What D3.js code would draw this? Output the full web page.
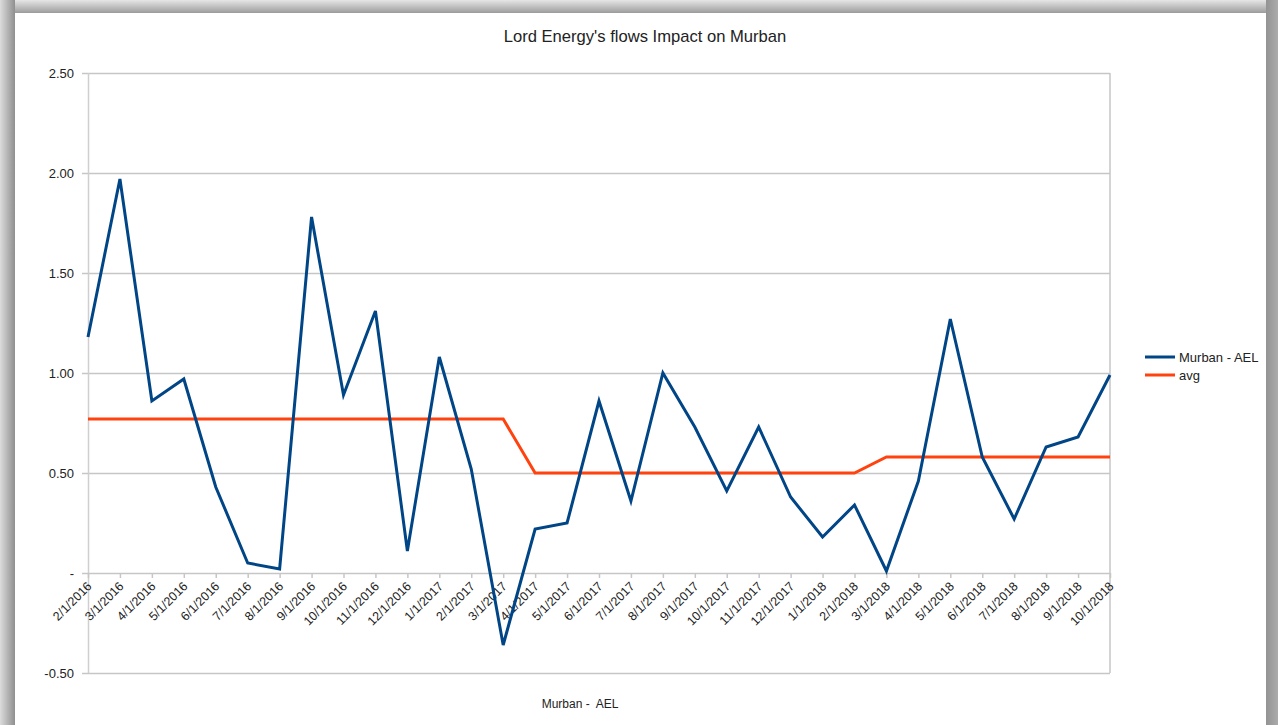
<!DOCTYPE html>
<html>
<head>
<meta charset="utf-8">
<script src="https://cdn.jsdelivr.net/npm/d3@7"></script>
<style>
  html, body { margin: 0; padding: 0; background: #fff; }
  svg { display: block; font-family: "Liberation Sans", Arial, sans-serif; }
</style>
</head>
<body>
<svg id="chart" width="1278" height="725"></svg>
<script>
// months shown on the category axis
var months = ["2/1/2016","3/1/2016","4/1/2016","5/1/2016","6/1/2016","7/1/2016","8/1/2016",
  "9/1/2016","10/1/2016","11/1/2016","12/1/2016","1/1/2017","2/1/2017","3/1/2017","4/1/2017",
  "5/1/2017","6/1/2017","7/1/2017","8/1/2017","9/1/2017","10/1/2017","11/1/2017","12/1/2017",
  "1/1/2018","2/1/2018","3/1/2018","4/1/2018","5/1/2018","6/1/2018","7/1/2018","8/1/2018",
  "9/1/2018","10/1/2018"];

var murban = [1.18, 1.97, 0.86, 0.97, 0.43, 0.05, 0.02, 1.78, 0.89, 1.31, 0.11, 1.08, 0.52,
  -0.36, 0.22, 0.25, 0.86, 0.36, 1.00, 0.73, 0.41, 0.73, 0.38, 0.18, 0.34, 0.01, 0.46, 1.27,
  0.58, 0.27, 0.63, 0.68, 0.99];

var avg = [0.77, 0.77, 0.77, 0.77, 0.77, 0.77, 0.77, 0.77, 0.77, 0.77, 0.77, 0.77, 0.77, 0.77,
  0.50, 0.50, 0.50, 0.50, 0.50, 0.50, 0.50, 0.50, 0.50, 0.50, 0.50,
  0.58, 0.58, 0.58, 0.58, 0.58, 0.58, 0.58, 0.58];

var yTicks = [-0.5, 0, 0.5, 1, 1.5, 2, 2.5];
var yTickLabels = ["-0.50", "-", "0.50", "1.00", "1.50", "2.00", "2.50"];

var seriesNames = ["Murban - AEL", "avg"];
var seriesColors = ["#004586", "#ff420e"];

var svg = d3.select('#chart');
var W = 1278, H = 725;

// gray frame round the sheet
var defs = svg.append('defs');
var gl = defs.append('linearGradient').attr('id', 'gLeft').attr('x1', 0).attr('x2', 1).attr('y1', 0).attr('y2', 0);
gl.append('stop').attr('offset', '0%').attr('stop-color', '#dcdcdc');
gl.append('stop').attr('offset', '100%').attr('stop-color', '#8f8f8f');
var gt = defs.append('linearGradient').attr('id', 'gTop').attr('x1', 0).attr('x2', 0).attr('y1', 0).attr('y2', 1);
gt.append('stop').attr('offset', '0%').attr('stop-color', '#e6e6e6');
gt.append('stop').attr('offset', '100%').attr('stop-color', '#9c9c9c');
var gr = defs.append('linearGradient').attr('id', 'gRight').attr('x1', 0).attr('x2', 1).attr('y1', 0).attr('y2', 0);
gr.append('stop').attr('offset', '0%').attr('stop-color', '#939393');
gr.append('stop').attr('offset', '100%').attr('stop-color', '#ababab');

svg.append('rect').attr('x', 0).attr('y', 0).attr('width', W).attr('height', 13).attr('fill', 'url(#gTop)');
svg.append('rect').attr('x', 0).attr('y', 0).attr('width', 15).attr('height', H).attr('fill', 'url(#gLeft)');
svg.append('rect').attr('x', 1266).attr('y', 0).attr('width', 12).attr('height', H).attr('fill', 'url(#gRight)');
svg.append('rect').attr('x', 15).attr('y', 13).attr('width', 1251).attr('height', H - 13).attr('fill', '#fff');

var x = d3.scalePoint().domain(months).range([88, 1110]);
var y = d3.scaleLinear().domain([-0.5, 2.5]).range([673, 73]);

// horizontal grid + y labels
var yAxis = d3.axisLeft(y)
  .tickValues(yTicks)
  .tickSize(-(1110 - 82))
  .tickPadding(8)
  .tickFormat(function (d, i) { return yTickLabels[i]; });

svg.append('g')
  .attr('transform', 'translate(82,0)')
  .call(yAxis)
  .call(function (g) {
    g.select('.domain').remove();
    g.selectAll('.tick line').attr('stroke', '#c6c6c6').attr('stroke-width', 1.5);
    g.selectAll('.tick text').attr('fill', '#222').style('font-size', '13px')
      .attr('x', -8);
  });

// plot frame: left axis, right edge
svg.append('line').attr('x1', 88.5).attr('x2', 88.5).attr('y1', 73).attr('y2', 673)
  .attr('stroke', '#cfcfcf').attr('stroke-width', 1.5);
svg.append('line').attr('x1', 1110).attr('x2', 1110).attr('y1', 73).attr('y2', 673)
  .attr('stroke', '#c6c6c6').attr('stroke-width', 1.5);

// category axis on the zero line
var xAxis = d3.axisBottom(x).tickSize(5).tickPadding(3);
svg.append('g')
  .attr('transform', 'translate(0,' + y(0) + ')')
  .call(xAxis)
  .call(function (g) {
    g.select('.domain').remove();
    g.selectAll('.tick line').attr('stroke', '#c6c6c6').attr('stroke-width', 1.5);
    g.selectAll('.tick text')
      .attr('fill', '#222')
      .style('font-size', '12.5px')
      .attr('text-anchor', 'end')
      .attr('dy', null)
      .attr('x', 0)
      .attr('y', 0)
      .attr('transform', 'translate(4,14) rotate(-45)');
  });

// series lines
var line = d3.line()
  .x(function (d, i) { return x(months[i]); })
  .y(function (d) { return y(d); });

svg.append('path').datum(avg)
  .attr('d', line)
  .attr('fill', 'none')
  .attr('stroke', seriesColors[1])
  .attr('stroke-width', 3);

svg.append('path').datum(murban)
  .attr('d', line)
  .attr('fill', 'none')
  .attr('stroke', seriesColors[0])
  .attr('stroke-width', 3)
  .attr('stroke-linejoin', 'miter');

// title
svg.append('text')
  .attr('x', 645).attr('y', 42)
  .attr('text-anchor', 'middle')
  .attr('fill', '#222')
  .style('font-size', '16.6px')
  .text("Lord Energy's flows Impact on Murban");

// axis title
svg.append('text')
  .attr('x', 580).attr('y', 708)
  .attr('text-anchor', 'middle')
  .attr('fill', '#222')
  .style('font-size', '12px')
  .style('white-space', 'pre')
  .attr('xml:space', 'preserve')
  .text("Murban -  AEL");

// legend
var legend = svg.append('g').attr('transform', 'translate(1145,357)');
legend.selectAll('g').data(seriesNames).enter().append('g')
  .attr('transform', function (d, i) { return 'translate(0,' + i * 18 + ')'; })
  .each(function (d, i) {
    var g = d3.select(this);
    g.append('line').attr('x1', 0).attr('x2', 30).attr('y1', 0).attr('y2', 0)
      .attr('stroke', seriesColors[i]).attr('stroke-width', 3);
    g.append('text').attr('x', 34).attr('y', 0).attr('dy', '0.35em')
      .attr('fill', '#222').style('font-size', '13px').text(d);
  });
</script>
</body>
</html>
